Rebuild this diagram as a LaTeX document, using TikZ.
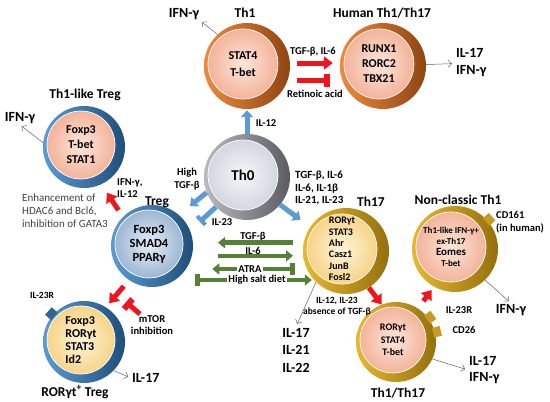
\documentclass[tikz,border=0pt]{standalone}
\usepackage{fontspec}
\setmainfont{Carlito}
\usetikzlibrary{arrows.meta,calc,positioning}

\definecolor{orL}{HTML}{EE8A3C}
\definecolor{orD}{HTML}{8E4511}
\definecolor{grL}{HTML}{B8BAC0}
\definecolor{grD}{HTML}{5A5C62}
\definecolor{blL}{HTML}{5B9BD5}
\definecolor{blD}{HTML}{1F4E79}
\definecolor{goL}{HTML}{E8B830}
\definecolor{goD}{HTML}{94700C}
\definecolor{salO}{HTML}{F3B39A}
\definecolor{salI}{HTML}{FCE6DA}
\definecolor{gryO}{HTML}{D3D7DF}
\definecolor{gryI}{HTML}{F5F6F8}
\definecolor{tregO}{HTML}{9DB6D3}
\definecolor{tregI}{HTML}{E6EEF6}
\definecolor{yelO}{HTML}{F6D488}
\definecolor{yelI}{HTML}{FFF4D8}
\definecolor{arrB}{HTML}{5B9BD5}
\definecolor{arrR}{HTML}{F0141E}
\definecolor{arrG}{HTML}{548235}
\definecolor{thinG}{HTML}{606060}
\definecolor{txtG}{HTML}{404040}

\tikzset{
  ring/.style 2 args={circle, inner sep=0pt, minimum size=86pt, left color=#1, right color=#2},
  core/.style 2 args={circle, inner sep=0pt, minimum size=70pt, inner color=#1, outer color=#2,
    draw=white, line width=0.7pt, align=center, font=\bfseries\fontsize{12}{15}\selectfont},
  rcpt/.style={rectangle, inner sep=0pt, minimum width=8pt, minimum height=10pt},
  title/.style={font=\bfseries\fontsize{13.5}{16}\selectfont, inner sep=1pt},
  big/.style={font=\bfseries\fontsize{14}{17}\selectfont, inner sep=1pt, align=left},
  lbl/.style={font=\bfseries\fontsize{10.5}{12.5}\selectfont, inner sep=1pt, align=center},
  glbl/.style={font=\bfseries\fontsize{10.5}{12.5}\selectfont, inner sep=1pt},
  note/.style={font=\fontsize{11}{13}\selectfont, text=txtG, inner sep=1pt, align=left},
  bluearr/.style={draw=arrB, line width=5pt, -{Triangle[length=7pt,width=12pt]}},
  bluebar/.style={draw=arrB, line width=5pt, -{Bar[width=12pt,line width=4pt]}},
  redarr/.style={draw=arrR, line width=5pt, -{Triangle[length=9pt,width=13pt]}},
  redbar/.style={draw=arrR, line width=5pt, -{Bar[width=13pt,line width=6pt]}},
  greenarr/.style={draw=arrG, line width=4.5pt, -{Triangle[length=7pt,width=11pt]}},
  greenbar/.style={draw=arrG, line width=4.5pt, -{Bar[width=12pt,line width=5pt]}},
  thinarr/.style={draw=thinG, line width=0.5pt, -{Straight Barb[length=3.5pt,width=7pt]}}
}

\begin{document}
\begin{tikzpicture}[x=1pt,y=-1pt]
\useasboundingbox (0,0) rectangle (550,402);

\node[ring={orL}{orD}] (th1) at (247,66) {};
\node[core={salI}{salO}, font=\bfseries\fontsize{12}{16.5}\selectfont] (th1c) at (243,64) {STAT4\\T-bet};
\node[ring={orL}{orD}] (hum) at (383,66) {};
\node[core={salI}{salO}] (humc) at (379,64) {RUNX1\\RORC2\\TBX21};
\node[ring={grL}{grD}] (th0) at (247,177) {};
\node[core={gryI}{gryO}, font=\bfseries\fontsize{15}{17}\selectfont] (th0c) at (243,175) {Th0};
\node[ring={blL}{blD}, minimum size=82pt] (tlt) at (84,147) {};
\node[core={salI}{salO}, minimum size=68pt] (tltc) at (81,145) {Foxp3\\T-bet\\STAT1};
\node[ring={blL}{blD}, minimum size=82pt] (treg) at (152,246) {};
\node[core={tregI}{tregO}, minimum size=68pt, font=\bfseries\fontsize{12.5}{14}\selectfont] (tregc) at (149,244) {Foxp3\\SMAD4\\PPARγ};
\node[ring={blL}{blD}, minimum size=82pt] (rtreg) at (84,342) {};
\node[core={yelI}{yelO}, minimum size=68pt, align=left, font=\bfseries\fontsize{12}{13}\selectfont] (rtregc) at (81,340) {Foxp3\\RORγt\\STAT3\\Id2};
\node[ring={goL}{goD}] (th17) at (346,251) {};
\node[core={yelI}{yelO}, align=left, font=\bfseries\fontsize{10}{11.3}\selectfont] (th17c) at (342,249) {RORγt\\STAT3\\Ahr\\Casz1\\JunB\\Fosl2};
\node[ring={goL}{goD}] (nc) at (455,249) {};
\node[core={salI}{salO}, font=\bfseries\fontsize{9}{11}\selectfont] (ncc) at (451,247) {Th1-like IFN-γ+\\ex-Th17\\\fontsize{11}{12}\selectfont Eomes\\T-bet};
\node[ring={goL}{goD}, minimum size=80pt] (tt) at (396,342) {};
\node[core={salI}{salO}, minimum size=66pt, font=\bfseries\fontsize{10}{12.5}\selectfont] (ttc) at (393,340) {RORγt\\STAT4\\T-bet};

\node[rcpt, fill=blD!70!blL, rotate=139] (rc1) at ($(rtreg.139)+(139:2pt)$) {};
\node[rcpt, fill=goL!60!goD, rotate=36] (rc2) at ($(tt.36)+(36:2pt)$) {};
\node[rcpt, fill=goL!60!goD, rotate=14] (rc3) at ($(tt.14)+(14:2pt)$) {};
\node[rcpt, fill=goL!60!goD, rotate=41] (rc4) at ($(nc.41)+(41:2pt)$) {};

\node[title] (th1t) at (245,13) {Th1};
\node[title] (humt) at (382,13) {Human Th1/Th17};
\node[title] (tltt) at (85,95) {Th1-like Treg};
\node[title] (tregt) at (157,202) {Treg};
\node[title] (th17t) at (371,202) {Th17};
\node[title] (nct) at (458,200) {Non-classic Th1};
\node[title] (ttt) at (398,393) {Th1/Th17};
\node[title] (rtregt) at (75,392) {RORγt\textsuperscript{+} Treg};

\node[big] (ifn1) at (184,14) {IFN-γ};
\node[big, anchor=west] (humout) at (455,63) {IL-17\\IFN-γ};
\node[big] (ifn2) at (20,118) {IFN-γ};
\node[big, anchor=west] (il17a) at (131,378) {IL-17};
\node[big, font=\bfseries\fontsize{14}{17.5}\selectfont] (il17b) at (296,350) {IL-17\\IL-21\\IL-22};
\node[big] (ifn3) at (511,310) {IFN-γ};
\node[big, anchor=west, font=\bfseries\fontsize{14}{16}\selectfont] (ttout) at (468,370) {IL-17\\IFN-γ};

\node[lbl] (il12) at (266,123) {IL-12};
\node[lbl] (hightgf) at (187,179) {High\\TGF-β};
\node[lbl] (il23) at (222,222) {IL-23};
\node[lbl, align=left, anchor=west, font=\bfseries\fontsize{11}{12.5}\selectfont] (th17cyt) at (294,188) {TGF-β, IL-6\\IL-6, IL-1β\\IL-21, IL-23};
\node[lbl] (tgfil6) at (313,52) {TGF-β, IL-6};
\node[lbl] (ra) at (315,94) {Retinoic acid};
\node[lbl, align=left, anchor=west] (ifnil12) at (116,188) {IFN-γ,\\IL-12};
\node[note, anchor=west] (enh) at (21,211) {Enhancement of\\HDAC6 and Bcl6,\\inhibition of GATA3};
\node[lbl] (mtor) at (152,325) {mTOR\\inhibition};
\node[lbl, font=\bfseries\fontsize{9.5}{11}\selectfont] (il1223) at (337,307) {IL-12, IL-23\\absence of TGF-β};
\node[lbl, font=\bfseries\fontsize{9.5}{11}\selectfont] (il23ra) at (42,295) {IL-23R};
\node[lbl] (il23rb) at (459,310) {IL-23R};
\node[lbl] (cd26) at (464,330) {CD26};
\node[lbl, align=left, anchor=west] (cd161) at (495,222) {CD161\\(in human)};

\node[glbl] (tgfb) at (253,237) {TGF-β};
\node[glbl] (il6) at (253,251) {IL-6};
\node[glbl] (atra) at (250,269) {ATRA};
\node[glbl] (salt) at (257,280) {High salt diet};

\draw[bluearr, shorten >=1pt] (th0) -- (th1);
\draw[bluearr, shorten >=14pt] (th0.201) -- (treg.49);
\draw[bluebar, shorten >=13pt] (th0.224) -- (treg.22);
\draw[bluearr, shorten >=12pt] (th0.-40) -- (th17.146);

\draw[redarr] ($(th1.east)+(7,-3)$) -- ($(hum.west)+(-7,-3)$);
\draw[redbar] ($(th1.east)+(7,14)$) -- ($(hum.west)+(-10,14)$);
\draw[redarr, shorten <=8pt, shorten >=10pt] (treg.135) -- (tlt.-65);
\draw[redarr, shorten <=8pt, shorten >=5pt] (treg.236) -- (rtreg.58);
\draw[redbar] ([xshift=-12pt]mtor.north) -- ++(-14,-12);
\draw[redarr] (th17.-58) -- (tt.111);
\draw[redarr, shorten <=9pt, shorten >=4pt] (tt.57) -- (nc.241);

\draw[greenarr] ([xshift=40pt]tgfb.south) -- ([xshift=-35pt]tgfb.south);
\draw[greenarr] ([xshift=-35pt]il6.south) -- ([xshift=40pt]il6.south);
\draw[greenarr] (atra.west) -- ++(-25,0);
\draw[greenbar] (atra.east) -- ++(32,0);
\draw[greenbar] (salt.west) -- ++(-32,0);
\draw[greenarr] (salt.east) -- ++(25,0);

\draw[thinarr, shorten >=2pt] (th1.133) -- (ifn1.south east);
\draw[thinarr, shorten >=3pt] (hum) -- (humout);
\draw[thinarr, shorten >=2pt] (tlt.174) -- (ifn2.south);
\draw[thinarr, shorten >=3pt] (rtreg.-44) -- (il17a.west);
\draw[thinarr, shorten >=3pt] (th17.226) -- (il17b.north);
\draw[thinarr, shorten >=3pt] (nc.-46) -- (ifn3.north);
\draw[thinarr, shorten >=3pt] (tt.-25) -- (ttout.west);

\end{tikzpicture}
\end{document}
